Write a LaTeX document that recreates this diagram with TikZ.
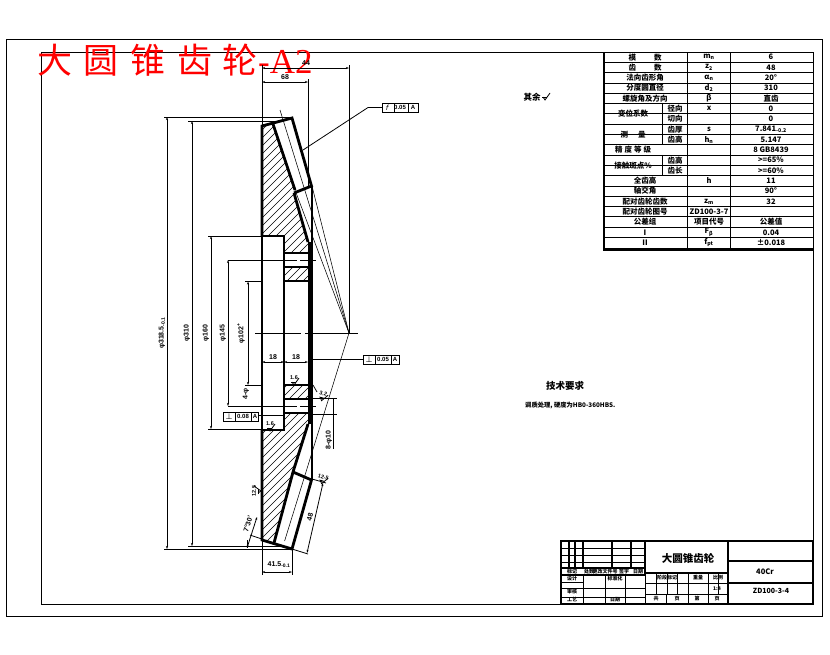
\documentclass[tikz,border=0pt]{standalone}
\usepackage{fontspec}
\usetikzlibrary{arrows.meta}
\setmainfont{Liberation Sans}
\newfontfamily\cjk{Noto Sans CJK SC}
\newfontfamily\sym{DejaVu Sans}
\newfontfamily\serifl{Liberation Serif}
\newcount\nc
\newcommand\lb[4][tt]{\global\advance\nc by 1\relax\node[#1] (n\the\nc) at (#2,#3) {#4};}
\tikzset{
  x=1pt,y=-1pt,
  thick line/.style={line width=2.8pt,line cap=square,line join=miter},
  thin line/.style={line width=0.8pt},
  hair/.style={line width=0.55pt},
  dim/.style={line width=0.8pt,{Stealth[length=3pt,width=2pt]}-{Stealth[length=3pt,width=2pt]}},
  tt/.style={inner sep=0pt,font=\cjk\bfseries\fontsize{7.5}{8}\selectfont},
  dt/.style={inner sep=0pt,font=\bfseries\fontsize{7}{7}\selectfont},
  sm/.style={inner sep=0pt,font=\cjk\bfseries\fontsize{5}{5}\selectfont},
  rt/.style={inner sep=0pt,transform shape,font=\bfseries\fontsize{5.5}{5.5}\selectfont},
}
\newcommand\rough[4]{% x y rot text
  \begin{scope}[shift={(#1,#2)},rotate=#3]
    \draw[thin line] (-3,-1) -- (-1,2) -- (4,-5);
    \draw[thin line] (-4,-1) -- (1,-1);
    \lb[rt]{-1}{-5}{#4}
  \end{scope}}
\begin{document}
\begin{tikzpicture}
\useasboundingbox (0,0) rectangle (830,654);
\fill[white] (0,0) rectangle (830,654);
% frames
\draw[thin line] (6,39) rectangle (822,616);
\draw[line width=1pt] (41,52) rectangle (813,604);
% red title
\lb[inner sep=0pt,anchor=west,text=red]{37}{60}{\fontsize{35}{35}\selectfont\cjk 大\hspace{11pt}圆\hspace{12pt}锥\hspace{12pt}齿\hspace{10pt}轮\hspace{1pt}\serifl -A2}
% hatching
\begin{scope}
  \clip (262,126) -- (273,124) -- (295,190) -- (294,193) -- (308,242) -- (308,253) -- (284,253) -- (284,236) -- (262,236) -- cycle
        (262,540) -- (274,543) -- (293,472) -- (308,424) -- (308,413) -- (284,413) -- (284,430) -- (262,430) -- cycle
        (284,267) rectangle (308,281) (284,385) rectangle (308,399);
  \foreach \k in {0,8,...,720} \draw[hair] (200,\k) -- ++(140,-140);
\end{scope}
% thin pitch lines
\coordinate (apex) at (349,333);
\draw[hair] (280,110) -- (apex);
\draw[hair] (312,186) -- (apex);
\draw[hair] (295,190) -- (apex);
\draw[hair] (284.6,541) -- (apex);
% gear outline
\draw[thick line] (262,429) -- (262,236) -- (284,236) -- (284,430) -- (262,430);
\draw[thick line] (262,236) -- (262,126) -- (292,118) -- (311.5,186) -- (294,193);
\draw[thick line] (273,124) -- (295,190);
\draw[thick line] (294,193) -- (308,242);
\draw[thick line] (262,430) -- (262,540) -- (292,549) -- (311.5,480) -- (293,472);
\draw[thick line] (274,543) -- (293,472);
\draw[thick line] (293,472) -- (308,424);
\draw[line width=2pt] (311.5,186) -- (311.5,480);
\draw[line width=5pt] (310,242) -- (310,424);
\foreach \yy in {253,267,281,385,399,413} \draw[thick line] (284,\yy) -- (308,\yy);
% centre lines
\draw[hair] (255,333) -- (301,333) (305,333) -- (358,333);
\draw[hair] (228,260) -- (297,260) (300,260) -- (316,260);
\draw[hair] (228,406) -- (297,406) (300,406) -- (316,406);
% dimension extensions
\draw[thin line] (262,65) -- (262,126) (308,79) -- (308,186) (349,65) -- (349,333);
\draw[thin line] (164,117) -- (290,117) (188,121) -- (280,121);
\draw[thin line] (164,549) -- (292,549) (188,546) -- (280,546);
\draw[thin line] (208,236) -- (262,236) (208,429) -- (262,429);
\draw[thin line] (245,281.5) -- (262,281.5) (245,385) -- (262,385);
\draw[thin line] (310,398) -- (337,398) (310,414) -- (337,414);
\draw[thin line] (262,540) -- (262,575) (292,549) -- (292,575);
\draw[thin line] (312,479) -- (326,483) (292,549) -- (308,554);
\draw[thin line] (262,539) -- (250,535);
\draw[thin line] (247,540) -- (247,548);
% dimensions
\draw[dim] (262,68) -- (349,68);
\draw[dim] (262,82) -- (308,82);
\draw[dim] (167,117) -- (167,549);
\draw[dim] (192,121) -- (192,546);
\draw[dim] (211,236) -- (211,429);
\draw[dim] (228,260) -- (228,406);
\draw[dim] (248,281.5) -- (248,385);
\draw[dim] (262,362) -- (284,362);
\draw[dim] (284,362) -- (308,362);
\draw[thin line] (333,398) -- (333,449);
\draw[dim] (323,483) -- (307,553);
\draw[dim] (262,572) -- (292,572);
\draw[dim] (257,517) -- (247,548);
% dimension labels
\lb[dt]{306}{63}{44}
\lb[dt]{285}{77}{68}
\lb[dt,rotate=90]{162}{333}{φ318.5\textsubscript{-0.1}}
\lb[dt,rotate=90]{187}{333}{φ310}
\lb[dt,rotate=90]{206}{333}{φ160}
\lb[dt,rotate=90]{223}{333}{φ145}
\lb[dt,rotate=90]{241}{333}{φ102\textsuperscript{+}}
\lb[dt,rotate=90]{246}{394}{4-φ}
\lb[dt]{273}{357}{18}
\lb[dt]{296}{357}{18}
\lb[dt,rotate=90]{329}{440}{8-φ10}
\lb[dt,rotate=77]{310}{517}{48}
\lb[dt]{279}{565}{41.5\textsubscript{-0.1}}
\lb[dt,rotate=72]{248}{524}{7°30'}
% roughness
\rough{295}{383}{0}{1.6}
\rough{323}{399}{-15}{3.2}
\draw[thin line] (313,385) -- (317,392);
\rough{271}{429}{0}{1.6}
\rough{323}{482}{-15}{12.5}
\rough{259}{490}{90}{12.5}
\rough{546}{98}{0}{}
% callouts
\newcommand\callout[4]{%
  \draw[thin line,fill=white] (#1,#2) rectangle (#4,#2+9);
  \draw[thin line] (#1+12,#2) -- (#1+12,#2+9) (#3,#2) -- (#3,#2+9);}
\callout{382}{103}{408}{418}
\lb[dt,font=\sym\fontsize{7}{7}\selectfont\itshape]{387}{107.5}{f}
\lb[dt,font=\bfseries\fontsize{6}{6}\selectfont]{400}{107.5}{0.05}
\lb[dt,font=\bfseries\fontsize{6}{6}\selectfont]{413}{107.5}{A}
\draw[thin line] (382,107.5) -- (368,107.5) -- (303,150);
\callout{363}{355}{391}{399}
\lb[dt,font=\sym\fontsize{8}{8}\selectfont]{369}{359.5}{⊥}
\lb[dt,font=\bfseries\fontsize{6}{6}\selectfont]{383}{359.5}{0.05}
\lb[dt,font=\bfseries\fontsize{6}{6}\selectfont]{395}{359.5}{A}
\draw[thin line] (363,359) -- (312,359);
\callout{223}{412}{251}{258}
\lb[dt,font=\sym\fontsize{8}{8}\selectfont]{229}{416.5}{⊥}
\lb[dt,font=\bfseries\fontsize{6}{6}\selectfont]{243}{416.5}{0.08}
\lb[dt,font=\bfseries\fontsize{6}{6}\selectfont]{255}{416.5}{A}
\draw[thin line] (258,415.5) -- (284,415.5);
% notes
\lb[tt,font=\cjk\bfseries\fontsize{8.5}{9}\selectfont]{532}{97}{其余}
\lb[tt,font=\cjk\bfseries\fontsize{9.5}{10}\selectfont]{565}{386}{技术要求}
\lb[tt,font=\cjk\bfseries\fontsize{6.3}{7}\selectfont,anchor=west]{525}{405}{调质处理, 硬度为HB0-360HBS.}
% parameter table
\foreach \i in {1,2,3,4,5,6,7,8,9,10,11,12,13,14,15,16,17,18} {
  \pgfmathsetmacro\yy{52+10.3*\i}
  \draw[thin line] (604,\yy) -- (813,\yy);
}
\path[fill=white] (605,118.5) rectangle (661.5,119.7) (605,139.1) rectangle (661.5,140.3) (605,170.1) rectangle (661.5,171.3);
\draw[thin line] (662,103.5) -- (662,144.7) (662,154.8) -- (662,175.5);
\draw[thin line] (687,52) -- (687,248) (730,52) -- (730,248);
\draw[line width=2.8pt] (604,52) -- (604,249.5) -- (813,249.5);
\draw[thin line] (813,248) -- (813,254);
% table text
\lb{645}{57.2}{模\hspace{18pt}数}\lb{709}{57.2}{m\textsubscript{n}}\lb{771}{57.2}{6}
\lb{645}{67.5}{齿\hspace{18pt}数}\lb{709}{67.5}{z\textsubscript{2}}\lb{771}{67.5}{48}
\lb{645}{77.8}{法向齿形角}\lb{709}{77.8}{α\textsubscript{n}}\lb{771}{77.8}{20°}
\lb{645}{88.1}{分度圆直径}\lb{709}{88.1}{d\textsubscript{2}}\lb{771}{88.1}{310}
\lb{645}{98.4}{螺旋角及方向}\lb{709}{98.4}{β}\lb{771}{98.4}{直齿}
\lb{633}{113.8}{变位系数}\lb{675}{108.7}{径向}\lb{709}{108.7}{x}\lb{771}{108.7}{0}
\lb{675}{119}{切向}\lb{771}{119}{0}
\lb{633}{134.4}{测\hspace{10pt}量}\lb{675}{129.3}{齿厚}\lb{709}{129.3}{s}\lb{771}{129.3}{7.841\textsubscript{-0.2}}
\lb{675}{139.6}{齿高}\lb{709}{139.6}{h\textsubscript{n}}\lb{771}{139.6}{5.147}
\lb{633}{149.9}{精\hspace{2pt}度\hspace{2pt}等\hspace{2pt}级}\lb{771}{149.9}{8 GB8439}
\lb{633}{165.3}{接触斑点\%}\lb{675}{160.2}{齿高}\lb{771}{160.2}{>=65\%}
\lb{675}{170.5}{齿长}\lb{771}{170.5}{>=60\%}
\lb{645}{180.8}{全齿高}\lb{709}{180.8}{h}\lb{771}{180.8}{11}
\lb{645}{191.1}{轴交角}\lb{771}{191.1}{90°}
\lb{645}{201.4}{配对齿轮齿数}\lb{709}{201.4}{z\textsubscript{m}}\lb{771}{201.4}{32}
\lb{645}{211.7}{配对齿轮图号}\lb{709}{211.7}{ZD100-3-7}
\lb{645}{222}{公差组}\lb{709}{222}{项目代号}\lb{771}{222}{公差值}
\lb{645}{232.3}{I}\lb{709}{232.3}{F\textsubscript{β}}\lb{771}{232.3}{0.04}
\lb{645}{242.6}{II}\lb{709}{242.6}{f\textsubscript{pt}}\lb{771}{242.6}{±0.018}
% title block
\draw[line width=2pt] (561,541) rectangle (813,603.5);
\draw[line width=2pt] (645,541) -- (645,573) -- (728,573);
\draw[line width=2pt] (728,541) -- (728,603);
\draw[line width=2pt] (728,560.5) -- (813,560.5) (728,583) -- (813,583);
% upper-left grid
\draw[thin line] (561,548) -- (645,548) (561,555) -- (645,555) (561,562) -- (645,562);
\draw[line width=1.3pt] (561,568) -- (645,568) (561,575) -- (645,575);
\foreach \xx in {569,575,583,612,631} \draw[line width=1.3pt] (\xx,541) -- (\xx,568);
\draw[thin line] (561,582) -- (583,582) (561,588) -- (645,588) (561,597) -- (645,597);
\foreach \xx in {583,605,625} \draw[thin line] (\xx,575) -- (\xx,603);
% middle lower grid
\draw[thin line] (645,583) -- (728,583) (645,594) -- (728,594);
\draw[thin line] (645,573) -- (645,603);
\foreach \xx in {656,667,677,688,708,718} \draw[thin line] (\xx,573) -- (\xx,594);
\draw[thin line] (688,594) -- (688,603) (708,594) -- (708,603) (666,594) -- (666,603);
% title block text
\lb[tt,font=\cjk\bfseries\fontsize{10.5}{11}\selectfont]{688}{558}{大圆锥齿轮}
\lb[tt,font=\cjk\bfseries\fontsize{7.5}{8}\selectfont]{765}{572}{40Cr}
\lb[tt,font=\cjk\bfseries\fontsize{7}{8}\selectfont]{771}{591}{ZD100-3-4}
\lb[sm]{572}{571.5}{标记}\lb[sm]{589}{571.5}{处数}\lb[sm]{605}{571.5}{更改文件号}\lb[sm]{624}{571.5}{签字}\lb[sm]{638}{571.5}{日期}
\lb[sm]{572}{578.5}{设计}\lb[sm]{615}{578.5}{标准化}
\lb[sm]{572}{592}{审核}\lb[sm]{572}{600}{工艺}\lb[sm]{615}{600}{日期}
\lb[sm]{667}{578}{阶段标记}\lb[sm]{698}{578}{重量}\lb[sm]{718}{578}{比例}
\lb[sm]{717}{589}{1:4}
\lb[sm]{656}{599}{共}\lb[sm]{677}{599}{页}\lb[sm]{697}{599}{第}\lb[sm]{717}{599}{页}
\end{tikzpicture}
\end{document}
